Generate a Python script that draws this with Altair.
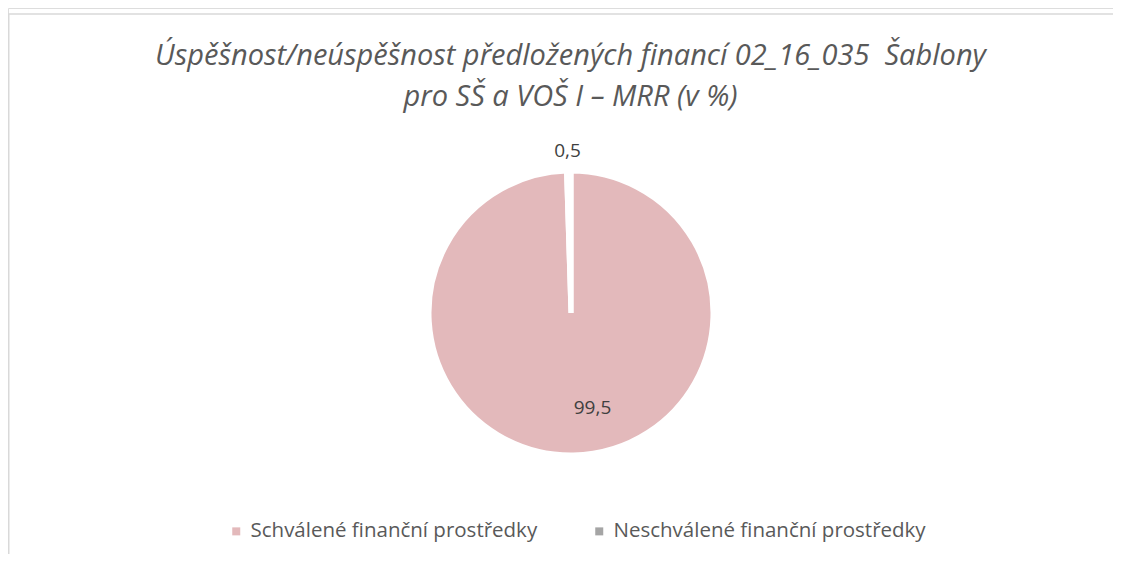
import altair as alt
import pandas as pd

categories = ["Schválené finanční prostředky", "Neschválené finanční prostředky"]
values = [99.5, 0.5]
labels = ["99,5", "0,5"]
order_idx = [0, 1]
title_lines = ["Úspěšnost/neúspěšnost předložených financí 02_16_035\u00a0 Šablony", "pro SŠ a VOŠ I – MRR (v %)"]

df = pd.DataFrame({"kat": categories, "hodnota": values, "popisek": labels, "poradi": order_idx})

W, H = 1105, 546
CX, CY = 571 - 8, 313 - 8
FONT = "Open Sans"

base = alt.Chart(df)

pie = base.mark_arc(outerRadius=142, stroke="white", strokeWidth=5).encode(
    theta=alt.Theta("hodnota:Q", stack=True),
    order=alt.Order("poradi:Q"),
    color=alt.Color(
        "kat:N",
        sort=categories,
        scale=alt.Scale(domain=categories, range=["#e3b9bb", "#a5a5a5"]),
        legend=alt.Legend(
            title=None, orient="none", direction="horizontal",
            legendX=218, legendY=513,
            symbolType="square", symbolSize=64, symbolStrokeWidth=0,
            labelFontSize=20.5, labelColor="#595959", labelFont=FONT,
            labelLimit=0, columnPadding=51, labelOffset=4,
        ),
    ),
    x=alt.value(CX), y=alt.value(CY),
)

lbl_big = base.transform_filter(alt.datum.poradi == 0).mark_text(
    radius=95, dx=20, fontSize=19, font=FONT, color="#404040"
).encode(
    theta=alt.Theta("hodnota:Q", stack=True), order=alt.Order("poradi:Q"),
    text="popisek:N", x=alt.value(CX), y=alt.value(CY),
)
lbl_small = base.mark_text(
    radius=162, dx=-1, fontSize=19, font=FONT, color="#404040"
).encode(
    theta=alt.Theta("hodnota:Q", stack=True), order=alt.Order("poradi:Q"),
    text=alt.condition(alt.datum.poradi == 1, "popisek:N", alt.value("")),
    x=alt.value(CX), y=alt.value(CY),
)

one = pd.DataFrame({"a": [0]})
border_h = alt.Chart(one).mark_rule(color="#d9d9d9", strokeWidth=1.5).encode(
    x=alt.value(0), x2=alt.value(W), y=alt.value(6)
)
border_v = alt.Chart(one).mark_rule(color="#d9d9d9", strokeWidth=1.5).encode(
    x=alt.value(0.75), y=alt.value(6), y2=alt.value(H)
)

chart = alt.layer(border_h, border_v, pie, lbl_big, lbl_small).properties(
    width=W, height=H,
    autosize=alt.AutoSizeParams(type="none"),
    padding=0,
    title=alt.TitleParams(
        title_lines,
        font=FONT, fontSize=29, fontStyle="italic", fontWeight=400, color="#595959",
        anchor="middle", frame="group", dx=10, offset=-127, lineHeight=41,
        baseline="alphabetic",
    ),
).configure_view(strokeWidth=0, stroke="transparent").configure(background="white")

chart.save("out.html", embed_options={"renderer": "svg", "actions": False})
